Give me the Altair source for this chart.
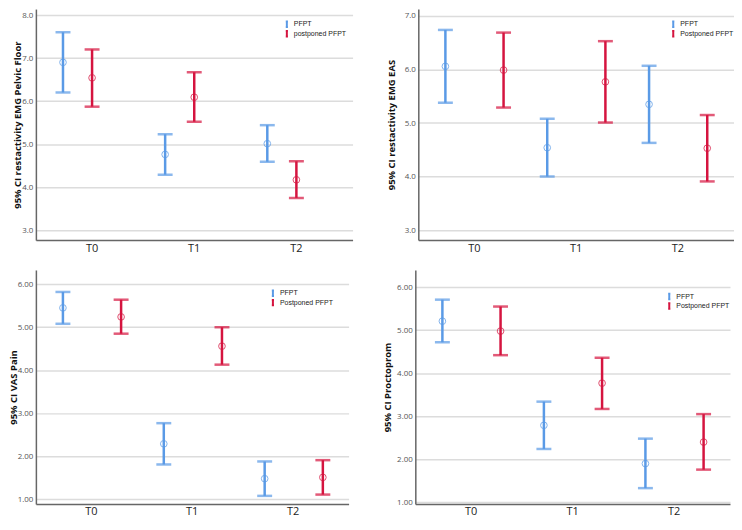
import altair as alt
import pandas as pd

times = ["T0", "T1", "T2"]

# Panel 1: EMG Pelvic Floor
p1_groups = ["PFPT", "postponed PFPT"]
p1_a_mean = [6.90, 4.76, 5.01]
p1_a_low = [6.20, 4.29, 4.59]
p1_a_high = [7.60, 5.23, 5.44]
p1_b_mean = [6.54, 6.09, 4.17]
p1_b_low = [5.87, 5.52, 3.75]
p1_b_high = [7.20, 6.67, 4.60]

# Panel 2: EMG EAS
p2_groups = ["PFPT", "Postponed PFPT"]
p2_a_mean = [6.06, 4.54, 5.35]
p2_a_low = [5.38, 4.00, 4.63]
p2_a_high = [6.74, 5.08, 6.07]
p2_b_mean = [5.99, 5.77, 4.53]
p2_b_low = [5.29, 5.01, 3.91]
p2_b_high = [6.69, 6.53, 5.15]

# Panel 3: VAS Pain
p3_groups = ["PFPT", "Postponed PFPT"]
p3_a_mean = [5.45, 2.29, 1.48]
p3_a_low = [5.08, 1.81, 1.08]
p3_a_high = [5.82, 2.77, 1.88]
p3_b_mean = [5.24, 4.56, 1.51]
p3_b_low = [4.85, 4.13, 1.11]
p3_b_high = [5.64, 5.00, 1.91]

# Panel 4: Proctoprom
p4_groups = ["PFPT", "Postponed PFPT"]
p4_a_mean = [5.21, 2.79, 1.90]
p4_a_low = [4.72, 2.24, 1.33]
p4_a_high = [5.71, 3.34, 2.48]
p4_b_mean = [4.98, 3.77, 2.40]
p4_b_low = [4.42, 3.17, 1.76]
p4_b_high = [5.55, 4.36, 3.05]

BLUE = "#5A9AE6"
RED = "#D5143F"
FONT = "Open Sans"
LEG_FONT = "Liberation Sans"


def frame(groups, am, al, ah, bm, bl, bh):
    rows = []
    for i, t in enumerate(times):
        rows.append({"time": t, "group": groups[0], "mean": am[i], "lo": al[i], "hi": ah[i]})
        rows.append({"time": t, "group": groups[1], "mean": bm[i], "lo": bl[i], "hi": bh[i]})
    return pd.DataFrame(rows)


def panel(df, groups, title, domain, tick_vals, fmt, width, height,
          extent, title_pad, lx, ly):
    x = alt.X("time:N",
              scale=alt.Scale(domain=times, paddingInner=0, paddingOuter=0.05),
              axis=alt.Axis(title=None, labelAngle=0, ticks=False, labelPadding=2,
                            labelFontSize=11, labelColor="#222222", labelFont=FONT,
                            domainColor="#666666", domainWidth=1.5, grid=False))
    xo = alt.XOffset("group:N",
                     scale=alt.Scale(domain=groups, paddingInner=0, paddingOuter=0.256))
    y_axis = alt.Axis(title=title, values=tick_vals, format=fmt, ticks=False,
                      labelPadding=3, labelFontSize=8, labelColor="#555555",
                      labelFlush=False,
                      labelFont=FONT, titleFont=FONT, titleFontSize=9.5,
                      titleFontWeight="bold", titleColor="#111111",
                      titlePadding=title_pad, minExtent=extent, maxExtent=extent,
                      domainColor="#666666", domainWidth=1.5,
                      grid=True, gridColor="#DCDCDC", gridWidth=1.5)
    yscale = alt.Scale(domain=domain, nice=False, zero=False)
    cscale = alt.Scale(domain=groups, range=[BLUE, RED])
    color_leg = alt.Color("group:N", scale=cscale,
                          legend=alt.Legend(title=None, orient="none", legendX=lx, legendY=ly,
                                            symbolType="M-0.4,-1H0.4M0,-1V1M-0.4,1H0.4",
                                            symbolSize=30, symbolStrokeWidth=2,
                                            symbolOpacity=1, clipHeight=9,
                                            labelFontSize=7, labelFont=LEG_FONT,
                                            labelColor="#222222", rowPadding=0.5,
                                            labelOffset=3, padding=0))
    color = alt.Color("group:N", scale=cscale, legend=None)
    base = alt.Chart(df)
    rule = base.mark_rule(strokeWidth=2.5).encode(
        x=x, xOffset=xo,
        y=alt.Y("lo:Q", scale=yscale, axis=y_axis), y2="hi:Q", color=color_leg)
    caps = base.transform_fold(["lo", "hi"], as_=["bound", "val"]).mark_tick(
        thickness=2.5, size=15, orient="horizontal").encode(
        x=x, xOffset=xo, y=alt.Y("val:Q", scale=yscale), color=color)
    pts = base.mark_point(shape="circle", filled=False, size=45, strokeWidth=1,
                          opacity=0.75).encode(
        x=x, xOffset=xo, y=alt.Y("mean:Q", scale=yscale), color=color)
    return alt.layer(rule, caps, pts).properties(
        width=width, height=height,
        view=alt.ViewBackground(stroke="transparent", strokeOpacity=0, strokeWidth=0))


d1 = frame(p1_groups, p1_a_mean, p1_a_low, p1_a_high, p1_b_mean, p1_b_low, p1_b_high)
d2 = frame(p2_groups, p2_a_mean, p2_a_low, p2_a_high, p2_b_mean, p2_b_low, p2_b_high)
d3 = frame(p3_groups, p3_a_mean, p3_a_low, p3_a_high, p3_b_mean, p3_b_low, p3_b_high)
d4 = frame(p4_groups, p4_a_mean, p4_a_low, p4_a_high, p4_b_mean, p4_b_low, p4_b_high)

c1 = panel(d1, p1_groups, "95% CI restactivity EMG Pelvic Floor", [2.769, 8.139],
           [3, 4, 5, 6, 7, 8], ".1f", 318, 232, 13, 0, 248, 10.8)
c2 = panel(d2, p2_groups, "95% CI restactivity EMG EAS", [2.814, 7.130],
           [3, 4, 5, 6, 7], ".1f", 317, 232, 17, 5, 252, 10.8)
c3 = panel(d3, p3_groups, "95% CI VAS Pain", [0.891, 6.331],
           [1, 2, 3, 4, 5, 6], ".2f", 314, 235, 17, 0, 234, 18.8)
c4 = panel(d4, p4_groups, "95% CI Proctoprom", [0.961, 6.400],
           [1, 2, 3, 4, 5, 6], ".2f", 316, 235, 18, 5, 251, 22.2)

top = alt.hconcat(c1, c2, spacing=34).resolve_scale(color="independent").resolve_legend(color="independent")
bottom = alt.hconcat(c3, c4, spacing=34).resolve_scale(color="independent").resolve_legend(color="independent")

chart = alt.vconcat(top, bottom, spacing=17).resolve_scale(
    color="independent").resolve_legend(color="independent").properties(
    padding={"left": 1, "top": 0, "right": 0, "bottom": 0}).configure(font=FONT).configure_view(
    stroke="transparent", strokeWidth=0)

chart.save("out.html", embed_options={"renderer": "svg", "actions": False})
